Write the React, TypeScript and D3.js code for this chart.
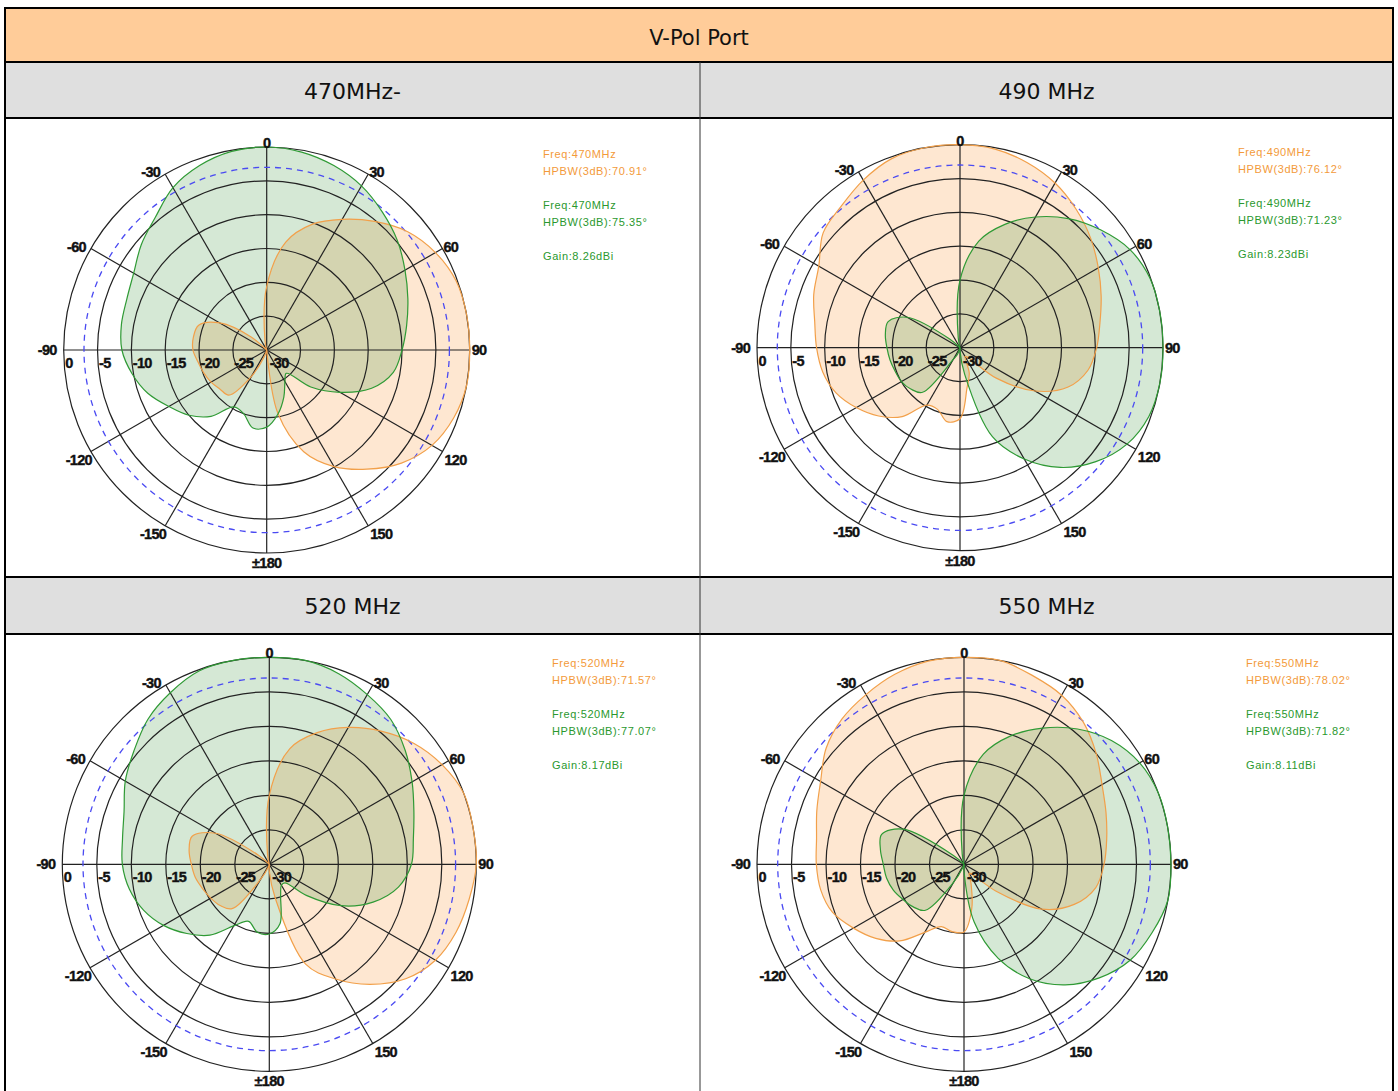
import React from "react";
import * as d3 from "d3";

// ---------- data ----------
const ANGLES = [0, 10, 20, 30, 40, 50, 60, 70, 80, 90, 100, 110, 120, 130, 140, 150, 160, 170,
  180, 190, 200, 210, 220, 230, 240, 250, 260, 270, 280, 290, 300, 310, 320, 330, 340, 350];

// gain in dB (normalised), clockwise from 0° (top)
const P470_ORANGE = [-20.6, -13.8, -10.2, -7.7, -5.2, -2.8, -1.2, -0.2, 0, 0, 0, -0.6, -1.8, -4.0, -7.0, -10.1, -14.0, -20.5,
  -30, -30, -29, -25.5, -21.3, -21, -20.5, -20.1, -19.7, -19.1, -19.0, -19.3, -22, -27, -30, -30, -30, -28.5];
const P470_GREEN = [0, -0.3, -1.0, -2.0, -3.4, -4.8, -6.4, -7.8, -9.0, -10.0, -11.0, -13.5, -17.5, -21.5, -25.5, -24.6, -22.6, -20.4,
  -18.6, -18.3, -20, -20.3, -17.2, -15.0, -13.3, -11.3, -9.8, -8.6, -8.2, -8.0, -7.3, -5.8, -4.4, -2.3, -1.0, -0.2];

const P490_ORANGE = [0, -0.2, -0.9, -1.9, -3.3, -4.8, -6.4, -7.8, -9.0, -9.8, -10.8, -13.0, -17.2, -23, -28, -28.5, -26, -24,
  -19.5, -18.9, -20.3, -20.2, -16.7, -14.3, -12.3, -10.5, -9.4, -8.8, -8.2, -7.0, -5.9, -3.6, -2.7, -1.4, -0.3, 0];
const P490_GREEN = [-20, -14, -10.6, -7.7, -5.1, -2.9, -1.0, -0.1, 0, 0, 0, -0.3, -1.5, -3.8, -6.9, -11, -16, -26,
  -29.5, -30, -29, -28, -21.4, -20.5, -20.0, -19.8, -19.5, -19.2, -18.8, -18.7, -21, -28, -30, -30, -30, -28.5];

const P520_ORANGE = [-20, -13, -9.7, -7.1, -4.8, -2.7, -1.1, 0, 0, 0, -0.6, -1.2, -2.2, -4.2, -7.3, -10.8, -14.6, -25,
  -29, -30, -29.5, -27.5, -21.6, -20.7, -20.2, -19.7, -19.1, -18.7, -18.2, -18.1, -21, -28, -30, -30, -30, -28.5];
const P520_GREEN = [0, 0, -0.6, -1.6, -2.6, -4.3, -6.1, -7.7, -8.8, -9.4, -11.0, -14.0, -18.0, -23.0, -26.5, -26.5, -25.2, -21.2,
  -19.9, -20.0, -21.2, -19.7, -16.6, -14.4, -12.3, -10.6, -9.4, -8.7, -8.4, -7.6, -5.9, -4.4, -2.6, -1.3, -0.2, 0];

const P550_ORANGE = [0, 0, -0.9, -1.7, -3.1, -5.0, -6.9, -8.1, -9.0, -9.7, -10.6, -13.0, -17.0, -24, -28, -28.5, -27, -23.5,
  -20.2, -20.1, -20.4, -18.6, -15.5, -13.3, -11.5, -9.7, -8.9, -8.6, -8.3, -7.3, -6.0, -3.9, -2.5, -1.6, -0.7, -0.1];
const P550_GREEN = [-20, -13.8, -10.2, -7.2, -4.4, -2.1, -0.6, 0, 0, 0, 0, -1.0, -2.2, -4.4, -7.2, -10.8, -15.5, -21.5,
  -29, -30, -29.5, -27, -21.3, -20.4, -19.8, -19.1, -18.6, -18.3, -17.7, -17.3, -19.8, -28, -30, -30, -30, -28.5];

const SPOKE_ANGLES = [0, 30, 60, 90, 120, 150, 180, 210, 240, 270, 300, 330];
const SPOKE_LABELS = ["0", "30", "60", "90", "120", "150", "±180", "-150", "-120", "-90", "-60", "-30"];
const RING_DB = [0, -5, -10, -15, -20, -25, -30];
const RING_LABELS = ["0", "-5", "-10", "-15", "-20", "-25", "-30"];
const HALF_POWER_DB = -3;

const TITLE = "V-Pol Port";
const PANEL_TITLES = ["470MHz-", "490 MHz", "520 MHz", "550 MHz"];
const FREQS = ["470MHz", "490MHz", "520MHz", "550MHz"];
const HPBW_ORANGE = ["70.91", "76.12", "71.57", "78.02"];
const HPBW_GREEN = ["75.35", "71.23", "77.07", "71.82"];
const GAINS = ["8.26", "8.23", "8.17", "8.11"];
const SERIES_ORANGE = [P470_ORANGE, P490_ORANGE, P520_ORANGE, P550_ORANGE];
const SERIES_GREEN = [P470_GREEN, P490_GREEN, P520_GREEN, P550_GREEN];

// ---------- layout ----------
const W = 1398;
const H = 1091;
const LEFT = 5;
const RIGHT = 1393;
const MID = 700;
const ROW_Y = [8, 62, 118, 577, 634, 1091];
const PANELS = [
  { cx: 266.7, cy: 350, R: 203, lx: 543, ly: 158 },
  { cx: 960, cy: 347.7, R: 203, lx: 1238, ly: 156 },
  { cx: 269.3, cy: 864.3, R: 207, lx: 552, ly: 667 },
  { cx: 964, cy: 864.3, R: 207, lx: 1246, ly: 667 },
];

const ORANGE_LINE = "#F2A04A";
const ORANGE_FILL = "rgba(250,140,40,0.21)";
const GREEN_LINE = "#2F9A35";
const GREEN_FILL = "rgba(46,139,46,0.2)";
const ORANGE_TEXT = "#F39A3A";
const GREEN_TEXT = "#2A982E";
const GRID = "#222";
const LABEL_FONT = "'Liberation Sans', Arial, sans-serif";

function Polar({ idx }: { idx: number }) {
  const { cx, cy, R, lx, ly } = PANELS[idx];
  const r = d3.scaleLinear().domain([-30, 0]).range([0, R]).clamp(true);
  const toRad = (a: number) => (a * Math.PI) / 180;
  const line = d3
    .lineRadial<[number, number]>()
    .angle((d) => toRad(d[0]))
    .radius((d) => r(d[1]))
    .curve(d3.curveCatmullRomClosed.alpha(0.5));
  const pts = (vals: number[]) => ANGLES.map((a, i) => [a, vals[i]] as [number, number]);
  const oPath = line(pts(SERIES_ORANGE[idx])) || "";
  const gPath = line(pts(SERIES_GREEN[idx])) || "";

  const end = (a: number) => ({ x: cx + R * Math.sin(toRad(a)), y: cy - R * Math.cos(toRad(a)) });

  const labelProps = {
    fontFamily: LABEL_FONT, fontWeight: "bold" as const, fontSize: 14.5, letterSpacing: -0.7,
    fill: "#111", stroke: "#111", strokeWidth: 0.4,
  };

  const spokeLabel = (a: number, i: number) => {
    const e = end(a);
    let x = e.x, y = e.y, anchor: "start" | "middle" | "end" = "start";
    if (a === 0) { anchor = "middle"; y = e.y + 1; }
    else if (a === 30 || a === 60) { x = e.x + 1; y = e.y + 3; }
    else if (a === 90) { x = e.x + 2; y = e.y + 5; }
    else if (a === 120 || a === 150) { x = e.x + 2; y = e.y + 13; }
    else if (a === 180) { anchor = "middle"; y = e.y + 15; }
    else if (a === 210 || a === 240) { anchor = "end"; x = e.x + 1; y = e.y + 13; }
    else if (a === 270) { anchor = "end"; x = e.x - 7; y = e.y + 5; }
    else { anchor = "end"; x = e.x - 5; y = e.y + 3; }
    return (
      <text key={"s" + i} x={x} y={y} textAnchor={anchor} {...labelProps}>{SPOKE_LABELS[i]}</text>
    );
  };

  return (
    <g>
      {/* pattern fills */}
      <g transform={`translate(${cx},${cy})`}>
        <path d={oPath} fill={ORANGE_FILL} stroke="none" />
        <path d={gPath} fill={GREEN_FILL} stroke="none" />
      </g>
      {/* grid */}
      {RING_DB.slice(0, 6).map((db) => (
        <circle key={db} cx={cx} cy={cy} r={r(db)} fill="none" stroke={GRID} strokeWidth={1.2} />
      ))}
      {SPOKE_ANGLES.map((a) => {
        const e = end(a);
        return <line key={a} x1={cx} y1={cy} x2={e.x} y2={e.y} stroke={GRID} strokeWidth={1.2} />;
      })}
      <circle cx={cx} cy={cy} r={r(HALF_POWER_DB)} fill="none" stroke="#4a4af2" strokeWidth={1.3}
        strokeDasharray="6 5" />
      {/* pattern lines */}
      <g transform={`translate(${cx},${cy})`}>
        <path d={oPath} fill="none" stroke={ORANGE_LINE} strokeWidth={1.2} />
        <path d={gPath} fill="none" stroke={GREEN_LINE} strokeWidth={1.2} />
      </g>
      {/* labels */}
      {SPOKE_ANGLES.map((a, i) => spokeLabel(a, i))}
      {RING_DB.map((db, i) => (
        <text key={"r" + i} x={cx - r(db) + (i === 6 ? 3 : 1.5)} y={cy + 18} {...labelProps}>{RING_LABELS[i]}</text>
      ))}
      {/* legend */}
      <g fontFamily={LABEL_FONT} fontSize={11} letterSpacing={0.6}>
        <text x={lx} y={ly} fill={ORANGE_TEXT}>{"Freq:" + FREQS[idx]}</text>
        <text x={lx} y={ly + 17} fill={ORANGE_TEXT}>{"HPBW(3dB):" + HPBW_ORANGE[idx] + "°"}</text>
        <text x={lx} y={ly + 51} fill={GREEN_TEXT}>{"Freq:" + FREQS[idx]}</text>
        <text x={lx} y={ly + 68} fill={GREEN_TEXT}>{"HPBW(3dB):" + HPBW_GREEN[idx] + "°"}</text>
        <text x={lx} y={ly + 102} fill={GREEN_TEXT}>{"Gain:" + GAINS[idx] + "dBi"}</text>
      </g>
    </g>
  );
}

export default function App() {
  const headFont = "'DejaVu Sans', Verdana, sans-serif";
  return (
    <svg width={W} height={H} style={{ position: "absolute", left: 0, top: 0, background: "#fff" }}>
      <rect x={0} y={0} width={W} height={H} fill="#fff" />
      {/* table backgrounds */}
      <rect x={LEFT} y={ROW_Y[0]} width={RIGHT - LEFT} height={ROW_Y[1] - ROW_Y[0]} fill="#FFCC99" />
      <rect x={LEFT} y={ROW_Y[1]} width={RIGHT - LEFT} height={ROW_Y[2] - ROW_Y[1]} fill="#DFDFDF" />
      <rect x={LEFT} y={ROW_Y[3]} width={RIGHT - LEFT} height={ROW_Y[4] - ROW_Y[3]} fill="#DFDFDF" />
      {/* headers */}
      <text x={(LEFT + RIGHT) / 2} y={38} textAnchor="middle" dominantBaseline="central" fontFamily={headFont}
        fontSize={21} fill="#111">{TITLE}</text>
      {[0, 1, 2, 3].map((i) => (
        <text key={i} x={i % 2 === 0 ? (LEFT + MID) / 2 : (MID + RIGHT) / 2} y={i < 2 ? 91 : 606}
          textAnchor="middle" dominantBaseline="central" fontFamily={headFont} fontSize={22} fill="#111">
          {PANEL_TITLES[i]}
        </text>
      ))}
      {/* charts */}
      {[0, 1, 2, 3].map((i) => <Polar key={i} idx={i} />)}
      {/* table lines */}
      {ROW_Y.slice(0, 5).map((y) => (
        <line key={y} x1={LEFT - 1} x2={RIGHT + 1} y1={y} y2={y} stroke="#000" strokeWidth={2} />
      ))}
      <line x1={LEFT} x2={LEFT} y1={ROW_Y[0]} y2={H} stroke="#000" strokeWidth={2} />
      <line x1={RIGHT} x2={RIGHT} y1={ROW_Y[0]} y2={H} stroke="#000" strokeWidth={2} />
      <line x1={MID} x2={MID} y1={ROW_Y[1]} y2={H} stroke="#333" strokeWidth={1} />
    </svg>
  );
}
